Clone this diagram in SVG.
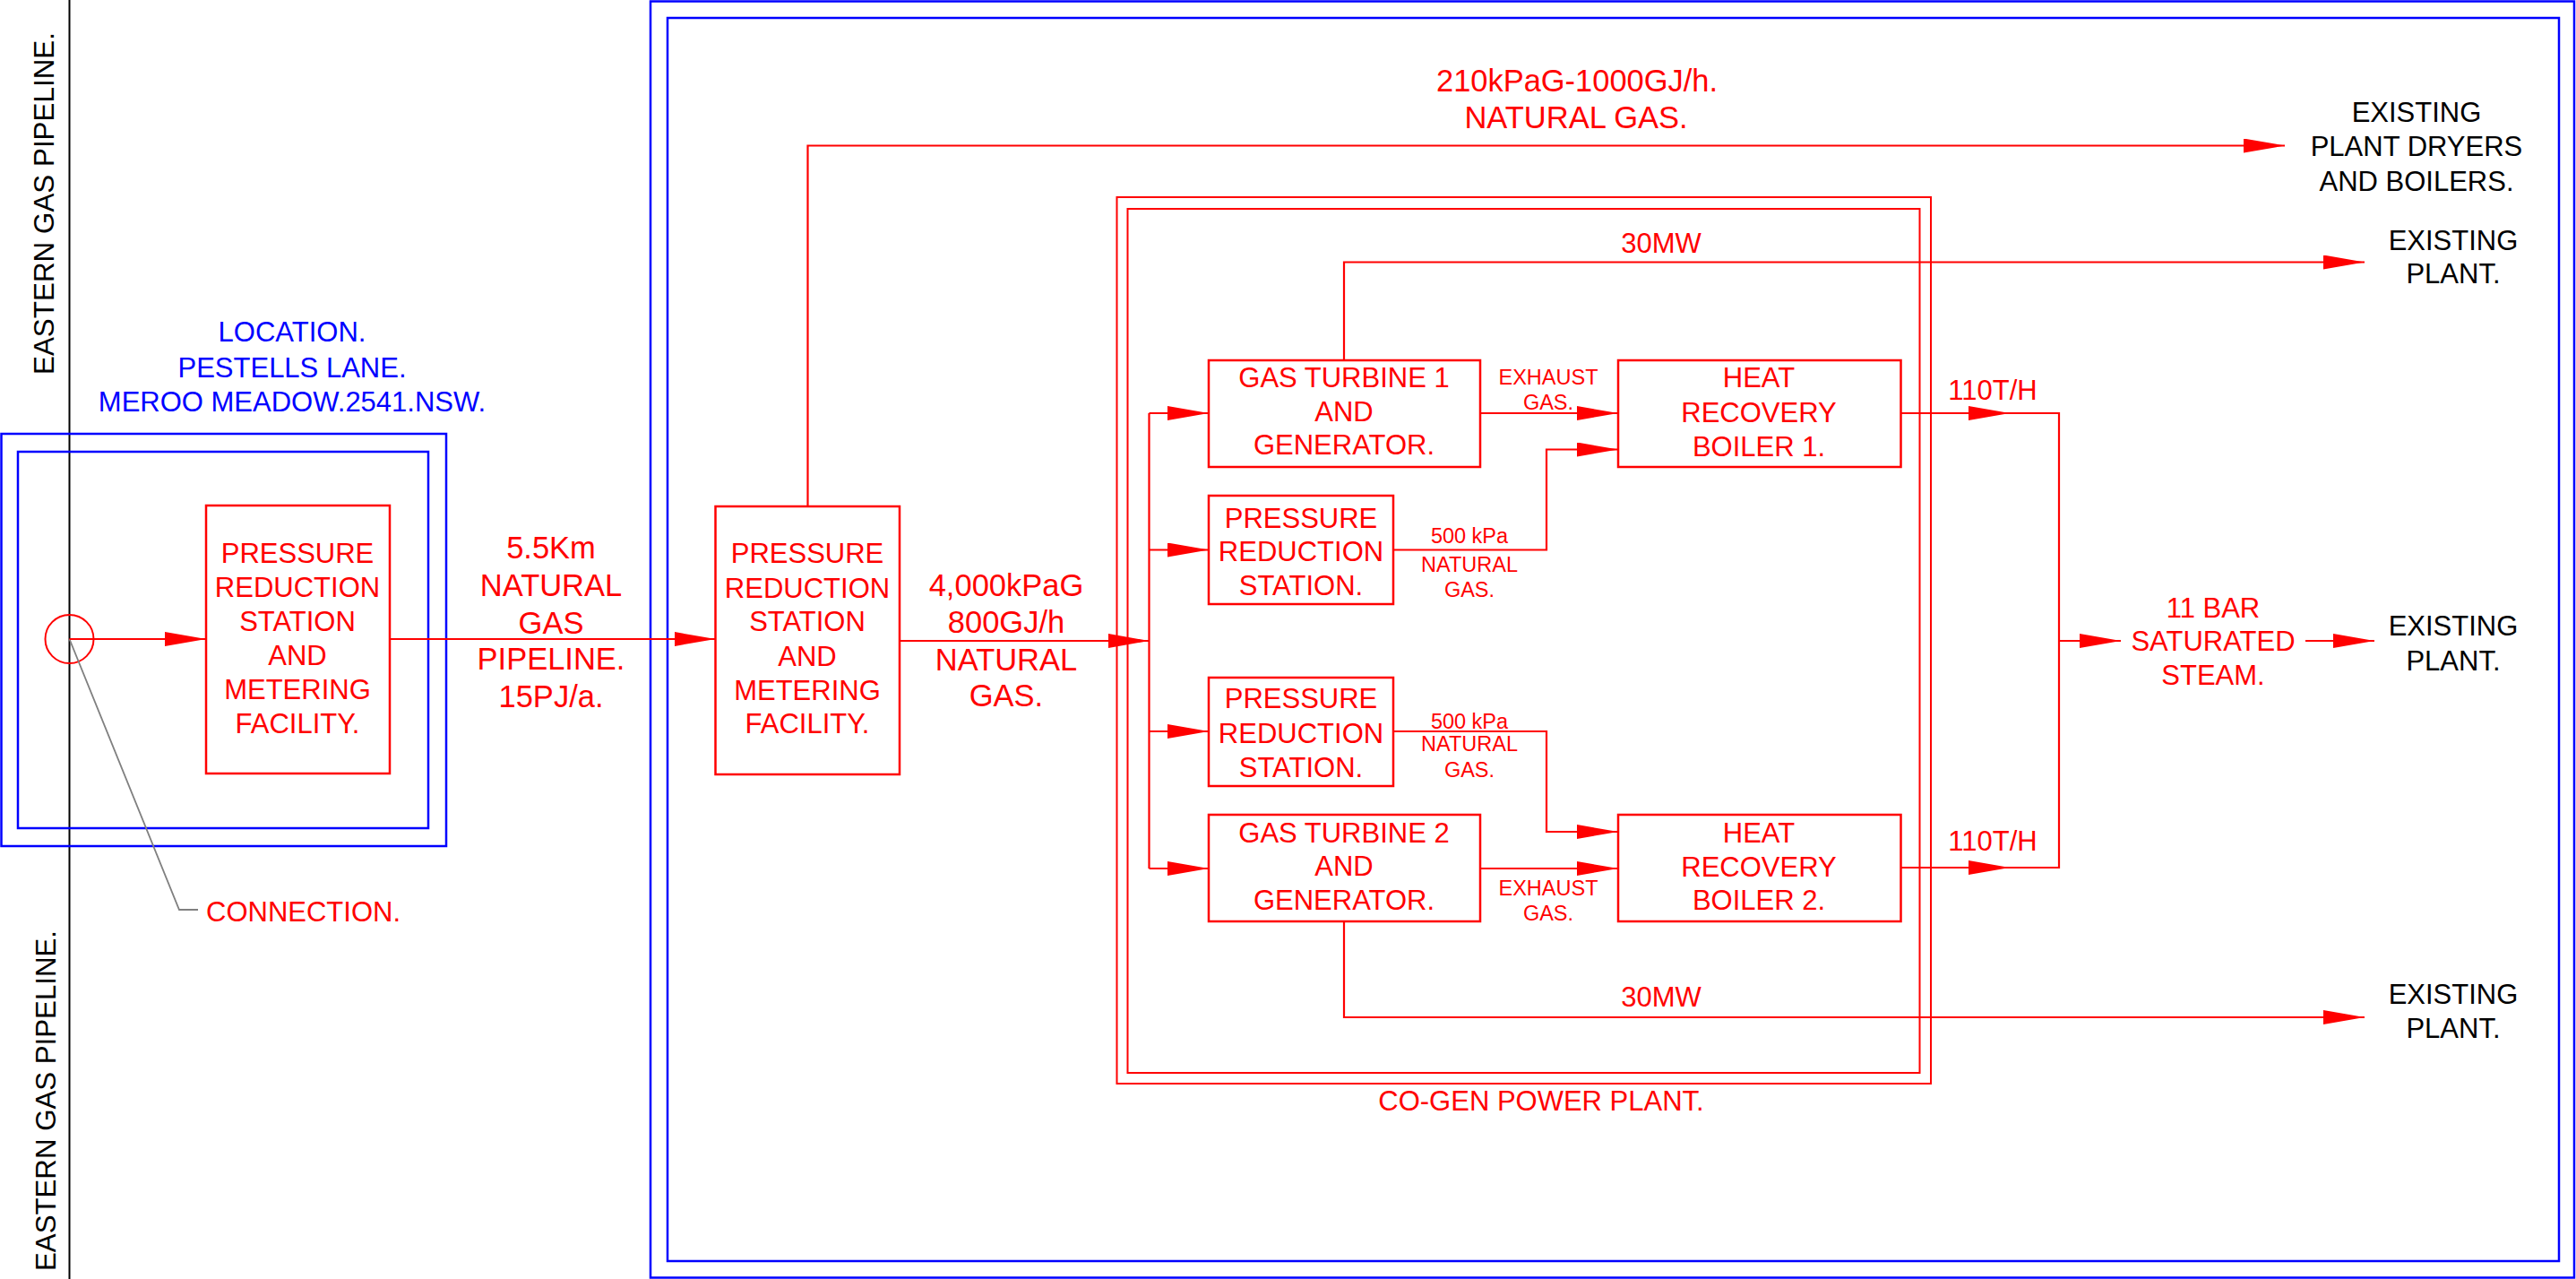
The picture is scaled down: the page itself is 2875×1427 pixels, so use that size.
<svg xmlns="http://www.w3.org/2000/svg" width="2875" height="1427" viewBox="0 0 2875 1427">
<style>
text{font-family:"Liberation Sans",Arial,sans-serif;}
.r{fill:#ff0000;}
.b{fill:#0000ff;}
.k{fill:#000000;}
.m{text-anchor:middle;}
.f31{font-size:31px;}
.f34{font-size:34.5px;}
.f23{font-size:23.5px;}
.box{fill:none;stroke:#ff0000;stroke-width:2.5;}
.frame{fill:none;stroke:#ff0000;stroke-width:2;}
.bl{fill:none;stroke:#0000ff;stroke-width:2.5;}
.ln{fill:none;stroke:#ff0000;stroke-width:2.2;}
.arr{marker-end:url(#ah);}
</style>
<defs>
<marker id="ah" viewBox="0 0 46 16" refX="46" refY="8" markerWidth="46" markerHeight="16" markerUnits="userSpaceOnUse" orient="auto">
<path d="M0,0 L46,8 L0,16 z" fill="#ff0000"/>
</marker>
</defs>
<rect width="2875" height="1427" fill="#ffffff"/>

<g id="pipeline-eastern">
<line x1="77.5" y1="0" x2="77.5" y2="1427" stroke="#000" stroke-width="2"/>
<text class="k" font-size="31.5" text-anchor="middle" transform="translate(60,227) rotate(-90)" textLength="382" lengthAdjust="spacingAndGlyphs">EASTERN GAS PIPELINE.</text>
<text class="k" font-size="31.5" text-anchor="middle" transform="translate(62,1228) rotate(-90)" textLength="380" lengthAdjust="spacingAndGlyphs">EASTERN GAS PIPELINE.</text>
</g>

<g id="location-boundary">
<rect class="bl" x="1.5" y="484" width="496.5" height="460"/>
<rect class="bl" x="20" y="504" width="458" height="420"/>
<text class="b m f31" x="326" y="381">LOCATION.</text>
<text class="b m f31" x="326" y="421">PESTELLS LANE.</text>
<text class="b m f31" x="326" y="459">MEROO MEADOW.2541.NSW.</text>
</g>

<g id="site-boundary">
<rect class="bl" x="726" y="1.5" width="2147" height="1424"/>
<rect class="bl" x="745" y="20" width="2111" height="1387"/>
</g>

<g id="connection">
<circle cx="77.5" cy="713" r="27" fill="none" stroke="#ff0000" stroke-width="2"/>
<text class="r f31" x="230" y="1028">CONNECTION.</text>
</g>

<g id="prs-metering-1">
<rect class="box" x="230" y="564" width="205" height="299"/>
<text class="r m f31" x="332" y="628">PRESSURE</text>
<text class="r m f31" x="332" y="666">REDUCTION</text>
<text class="r m f31" x="332" y="704">STATION</text>
<text class="r m f31" x="332" y="742">AND</text>
<text class="r m f31" x="332" y="780">METERING</text>
<text class="r m f31" x="332" y="818">FACILITY.</text>
</g>

<g id="prs-metering-2">
<rect class="box" x="798.5" y="565" width="205.5" height="299"/>
<text class="r m f31" x="901" y="628">PRESSURE</text>
<text class="r m f31" x="901" y="667">REDUCTION</text>
<text class="r m f31" x="901" y="704">STATION</text>
<text class="r m f31" x="901" y="743">AND</text>
<text class="r m f31" x="901" y="781">METERING</text>
<text class="r m f31" x="901" y="818">FACILITY.</text>
</g>

<g id="cogen-plant">
<rect class="frame" x="1246.5" y="220" width="908.5" height="989"/>
<rect class="frame" x="1258.5" y="233" width="884" height="964"/>
<text class="r m f31" x="1720" y="1239">CO-GEN POWER PLANT.</text>
</g>

<g id="gas-turbine-1">
<rect class="box" x="1349" y="402" width="303" height="119"/>
<text class="r m f31" x="1500" y="432">GAS TURBINE 1</text>
<text class="r m f31" x="1500" y="470">AND</text>
<text class="r m f31" x="1500" y="507">GENERATOR.</text>
</g>

<g id="prs-station-1">
<rect class="box" x="1349" y="553" width="206" height="121"/>
<text class="r m f31" x="1452" y="588.5">PRESSURE</text>
<text class="r m f31" x="1452" y="626">REDUCTION</text>
<text class="r m f31" x="1452" y="664">STATION.</text>
</g>

<g id="prs-station-2">
<rect class="box" x="1349" y="756" width="206" height="121"/>
<text class="r m f31" x="1452" y="790">PRESSURE</text>
<text class="r m f31" x="1452" y="829">REDUCTION</text>
<text class="r m f31" x="1452" y="867">STATION.</text>
</g>

<g id="gas-turbine-2">
<rect class="box" x="1349" y="909" width="303" height="119"/>
<text class="r m f31" x="1500" y="940">GAS TURBINE 2</text>
<text class="r m f31" x="1500" y="977">AND</text>
<text class="r m f31" x="1500" y="1015">GENERATOR.</text>
</g>

<g id="hrb-1">
<rect class="box" x="1806" y="402" width="315.5" height="119"/>
<text class="r m f31" x="1963" y="432">HEAT</text>
<text class="r m f31" x="1963" y="471">RECOVERY</text>
<text class="r m f31" x="1963" y="509">BOILER 1.</text>
</g>

<g id="hrb-2">
<rect class="box" x="1806" y="909" width="315.5" height="119"/>
<text class="r m f31" x="1963" y="940">HEAT</text>
<text class="r m f31" x="1963" y="978">RECOVERY</text>
<text class="r m f31" x="1963" y="1015">BOILER 2.</text>
</g>

<g id="existing-dryers">
<text class="k m f31" x="2697" y="136">EXISTING</text>
<text class="k m f31" x="2697" y="174">PLANT DRYERS</text>
<text class="k m f31" x="2697" y="212.5">AND BOILERS.</text>
</g>
<g id="existing-plant-1">
<text class="k m f31" x="2738" y="278.6">EXISTING</text>
<text class="k m f31" x="2738" y="316">PLANT.</text>
</g>
<g id="existing-plant-2">
<text class="k m f31" x="2738" y="709">EXISTING</text>
<text class="k m f31" x="2738" y="747.5">PLANT.</text>
</g>
<g id="existing-plant-3">
<text class="k m f31" x="2738" y="1120">EXISTING</text>
<text class="k m f31" x="2738" y="1158">PLANT.</text>
</g>

<g id="connectors">
<path class="ln" d="M77.5,713 L200,1015 H221" stroke="#808080" style="stroke:#808080;stroke-width:1.8"/>
<path class="ln arr" d="M77.5,713 H230"/>
<path class="ln arr" d="M435,713 H798.5"/>
<path class="ln arr" d="M1004,715 H1282.5"/>
<path class="ln arr" d="M901.5,565 V162.5 H2550"/>
<path class="ln" d="M1282.5,461 V969"/>
<path class="ln arr" d="M1282.5,461 H1349"/>
<path class="ln arr" d="M1282.5,613.5 H1349"/>
<path class="ln arr" d="M1282.5,816 H1349"/>
<path class="ln arr" d="M1282.5,969 H1349"/>
<path class="ln arr" d="M1652,461 H1806"/>
<path class="ln arr" d="M1555,613.5 H1726 V501.5 H1806"/>
<path class="ln arr" d="M1555,816 H1726 V928 H1806"/>
<path class="ln arr" d="M1652,969 H1806"/>
<path class="ln arr" d="M1500,402 V292.5 H2639"/>
<path class="ln arr" d="M1500,1028 V1135 H2639"/>
<path class="ln arr" d="M2121.5,461 H2243"/>
<path class="ln arr" d="M2121.5,968 H2243"/>
<path class="ln" d="M2243,461 H2298 V968 H2243"/>
<path class="ln arr" d="M2298,715 H2367"/>
<path class="ln arr" d="M2573,715 H2650"/>
</g>

<g id="connector-labels">
<text class="r m f34" x="615" y="623">5.5Km</text>
<text class="r m f34" x="615" y="665">NATURAL</text>
<text class="r m f34" x="615" y="707">GAS</text>
<text class="r m f34" x="615" y="747">PIPELINE.</text>
<text class="r m f34" x="615" y="789">15PJ/a.</text>
<text class="r m f34" x="1123" y="665">4,000kPaG</text>
<text class="r m f34" x="1123" y="706">800GJ/h</text>
<text class="r m f34" x="1123" y="747.5">NATURAL</text>
<text class="r m f34" x="1123" y="788">GAS.</text>
<text class="r m f34" x="1760" y="101.7" textLength="314" lengthAdjust="spacingAndGlyphs">210kPaG-1000GJ/h.</text>
<text class="r m f34" x="1759" y="143.3">NATURAL GAS.</text>
<text class="r m f31" x="1854" y="282">30MW</text>
<text class="r m f31" x="1854" y="1123">30MW</text>
<text class="r m f23" x="1728" y="428.6">EXHAUST</text>
<text class="r m f23" x="1728" y="457">GAS.</text>
<text class="r m f23" x="1728" y="999">EXHAUST</text>
<text class="r m f23" x="1728" y="1027">GAS.</text>
<text class="r m f23" x="1640" y="606">500 kPa</text>
<text class="r m f23" x="1640" y="637.6">NATURAL</text>
<text class="r m f23" x="1640" y="665.7">GAS.</text>
<text class="r m f23" x="1640" y="812.7">500 kPa</text>
<text class="r m f23" x="1640" y="838">NATURAL</text>
<text class="r m f23" x="1640" y="866.7">GAS.</text>
<text class="r m f31" x="2224" y="446">110T/H</text>
<text class="r m f31" x="2224" y="948.6">110T/H</text>
<text class="r m f31" x="2470" y="688.6">11 BAR</text>
<text class="r m f31" x="2470" y="726">SATURATED</text>
<text class="r m f31" x="2470" y="764">STEAM.</text>
</g>
</svg>
